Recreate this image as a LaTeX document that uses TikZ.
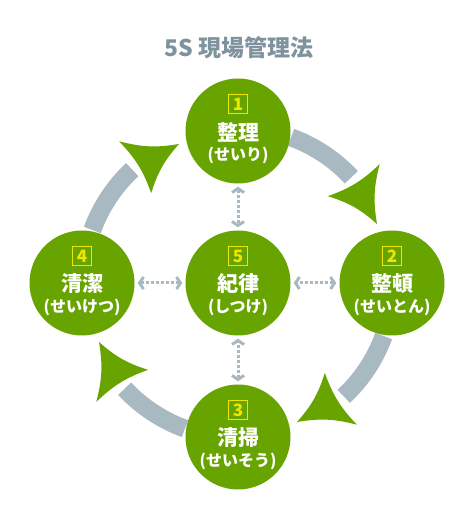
\documentclass[tikz,border=0pt]{standalone}
\usepackage{fontspec}
\newfontfamily\jp{Noto Sans CJK JP}
\usetikzlibrary{arrows.meta}
\definecolor{grn}{HTML}{68A400}
\definecolor{bandc}{HTML}{A9B9C1}
\definecolor{ylw}{HTML}{EDE600}
\definecolor{ttl}{HTML}{7E939D}
\begin{document}
\begin{tikzpicture}[x=1pt,y=1pt,
 circ/.style={circle, fill=grn, minimum size=105pt, inner sep=0pt},
 numbox/.style={draw=ylw, line width=1.2pt, text=ylw, minimum size=19pt, inner sep=0pt, font=\jp\bfseries\fontsize{17}{17}\selectfont},
 kanji/.style={text=white, font=\jp\bfseries\fontsize{21}{21}\selectfont, inner sep=0pt},
 kana/.style={text=white, font=\jp\bfseries\fontsize{16}{16}\selectfont, inner sep=0pt},
 link/.style={draw=bandc, line width=3pt, dash pattern=on 3pt off 2pt, {Straight Barb[length=4pt,width=12pt]}-{Straight Barb[length=4pt,width=12pt]}, shorten <=3pt, shorten >=3pt},
 cyc/.style={draw=bandc, line width=18pt},
 head/.style={fill=grn},
]
\useasboundingbox (0,0) rectangle (475,512);
\node[text=ttl, font=\jp\bfseries\fontsize{23}{23}\selectfont] (title) at (239,464) {5S 現場管理法};

% cycle arrows
\begin{scope}[shift={(238,229)}]
\foreach \A in {90,0,-90,180}{
  \draw[cyc] ({\A-20}:155) arc[start angle=\A-20, end angle=\A-47, radius=155];
  \fill[head] ({\A-67}:151) to[bend left=12] ({\A-50}:185) to[bend left=12] ({\A-46}:125) to[bend left=12] cycle;
}
\end{scope}

\node[circ] (c1) at (238,381) {};
\node[circ] (c2) at (392,229) {};
\node[circ] (c3) at (238,75) {};
\node[circ] (c4) at (82,229) {};
\node[circ] (c5) at (238,229) {};

\draw[link] (c1) -- (c5);
\draw[link] (c3) -- (c5);
\draw[link] (c4) -- (c5);
\draw[link] (c2) -- (c5);

\node[numbox] (n1) at ([yshift=27pt]c1.center) {1};
\node[kanji] (k1) at ([yshift=-1pt]c1.center) {整理};
\node[kana] (h1) at ([yshift=-24pt]c1.center) {(せいり)};

\node[numbox] (n2) at ([yshift=27pt]c2.center) {2};
\node[kanji] (k2) at ([yshift=-1pt]c2.center) {整頓};
\node[kana] (h2) at ([yshift=-24pt]c2.center) {(せいとん)};

\node[numbox] (n3) at ([yshift=27pt]c3.center) {3};
\node[kanji] (k3) at ([yshift=-1pt]c3.center) {清掃};
\node[kana] (h3) at ([yshift=-24pt]c3.center) {(せいそう)};

\node[numbox] (n4) at ([yshift=27pt]c4.center) {4};
\node[kanji] (k4) at ([yshift=-1pt]c4.center) {清潔};
\node[kana] (h4) at ([yshift=-24pt]c4.center) {(せいけつ)};

\node[numbox] (n5) at ([yshift=27pt]c5.center) {5};
\node[kanji] (k5) at ([yshift=-1pt]c5.center) {紀律};
\node[kana] (h5) at ([yshift=-24pt]c5.center) {(しつけ)};
\end{tikzpicture}
\end{document}
